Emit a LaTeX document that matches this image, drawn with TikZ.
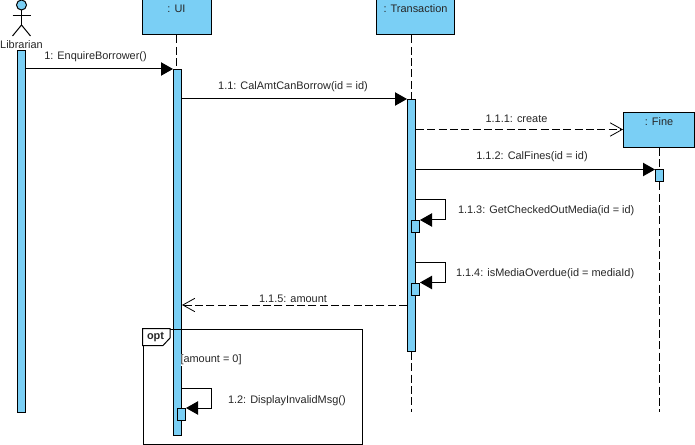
\documentclass[tikz,border=0pt]{standalone}
\usepackage{fontspec}
\setmainfont{Liberation Sans}
\usepackage{xcolor}
\definecolor{life-blue}{RGB}{122,207,245}
\usetikzlibrary{arrows.meta,positioning}

\begin{document}
\begin{tikzpicture}[
    x=0.75pt, y=-0.75pt,
    line width=0.75pt,
    every node/.style={font=\fontsize{8.2pt}{10pt}\selectfont, text=black!85},
    object box/.style={
        draw=black,
        fill=life-blue,
        inner sep=0pt,
        text height=9.75pt,
        text depth=16.5pt
    },
    bar/.style={
        draw=black,
        fill=life-blue,
        inner sep=0pt,
        minimum width=6pt,
        anchor=north
    },
    lifeline/.style={dash pattern=on 6pt off 2.5pt},
    call/.style={-{Triangle[length=9pt,width=10pt]}},
    reply/.style={dash pattern=on 6pt off 2.5pt, -{Straight Barb[length=9pt,width=10pt,line width=0.6pt]}},
    msg label/.style={inner sep=0pt, yshift=-0.75pt}
]
\useasboundingbox (0,0) rectangle (695,445);

% Objects
\node[object box, minimum width=51.75pt] (ui) at (176.5,17.5) {: UI};
\node[object box, minimum width=58.5pt] (transaction) at (415.5,17.5) {: Transaction};
\node[object box, minimum width=53.25pt] (fine) at (659,129.75) {: Fine};

% Actor
\node[circle, draw=black, fill=life-blue, inner sep=0pt, minimum size=7.5pt] (head) at (21.5,5) {};
\coordinate (hip) at (21.5,25);
\coordinate (armL) at (12.5,15.5);
\coordinate (armR) at (30.5,15.5);
\coordinate (footL) at (12.5,36);
\coordinate (footR) at (30.5,36);
\draw (head.south) -- (hip);
\draw (armL) -- (armR);
\draw (footL) -- (hip) -- (footR);
\node[msg label] (librarian) at (21.5,43.5) {Librarian};

% Activation bars
\coordinate (endT) at (411.5,412);
\coordinate (endF) at (659,412);
\node[bar, minimum height=271.5pt] (barL) at (21.5,50) {};
\node[bar, minimum height=274.5pt] (barU) at (177.5,69) {};
\node[bar, minimum height=189pt] (barT) at (411.5,99) {};
\node[bar, minimum height=9pt] (barF) at (659.5,169.5) {};
\node[bar, minimum height=9pt] (barC) at (415.5,220) {};
\node[bar, minimum height=9pt] (barO) at (415.5,282.5) {};
\node[bar, minimum height=9pt] (barD) at (181.5,408) {};

% Lifelines
\draw[lifeline] (ui.south) -- (ui.south |- barU.north);
\draw[lifeline] (transaction.south -| barT.north) -- (barT.north);
\draw[lifeline] (barT.south) -- (endT);
\draw[lifeline] (fine.south) -- (fine.south |- barF.north);
\draw[lifeline] (fine.south |- barF.south) -- (endF);

% Messages
\draw[call] (barL.east |- barU.north) -- (barU.north west);
\node[msg label] (m1) at (95.5,56) {1: EnquireBorrower()};

\draw[call] (barU.east |- barT.north) -- (barT.north west);
\node[msg label] (m11) at (293,86) {1.1: CalAmtCanBorrow(id = id)};

\coordinate (create) at (411.5,129.5);
\draw[reply] (barT.east |- create) -- (fine.west |- create);
\node[msg label] (m111) at (516.5,118) {1.1.1: create};

\draw[call] (barT.east |- barF.north) -- (barF.north west);
\node[msg label] (m112) at (532,156) {1.1.2: CalFines(id = id)};

% Self calls
\coordinate (selfC) at (445.5,200);
\draw[call] (barT.east |- selfC) -- (selfC) |- (barC.north east);
\node[msg label, anchor=west] (m113) at (457.5,210) {1.1.3: GetCheckedOutMedia(id = id)};

\coordinate (selfO) at (445.5,262.5);
\draw[call] (barT.east |- selfO) -- (selfO) |- (barO.north east);
\node[msg label, anchor=west] (m114) at (455.5,273) {1.1.4: isMediaOverdue(id = mediaId)};

\coordinate (back) at (411.5,305);
\draw[reply] (barT.west |- back) -- (barU.east |- back);
\node[msg label] (m115) at (293,298) {1.1.5: amount};

% Opt frame
\node[draw=black, inner sep=0pt, minimum width=164.25pt, minimum height=86.25pt, anchor=north west] (optframe) at (142.5,328.5) {};
\coordinate (tabA) at (170,328.5);
\coordinate (tabB) at (170,338);
\coordinate (tabC) at (163,345.5);
\coordinate (tabD) at (142.5,345.5);
\filldraw[draw=black, fill=white] (optframe.north west) -- (tabA) -- (tabB) -- (tabC) -- (tabD) -- cycle;
\node[msg label, font=\fontsize{8.2pt}{10pt}\selectfont\bfseries] (optlabel) at (155.5,336.5) {opt};
\node[msg label, fill=white, anchor=west, inner ysep=1pt] (guard) at (180,359) {[amount = 0]};

\coordinate (selfD) at (211.5,388.5);
\draw[call] (barU.east |- selfD) -- (selfD) |- (barD.north east);
\node[msg label, anchor=west] (m12) at (227.5,400) {1.2: DisplayInvalidMsg()};

\end{tikzpicture}
\end{document}
